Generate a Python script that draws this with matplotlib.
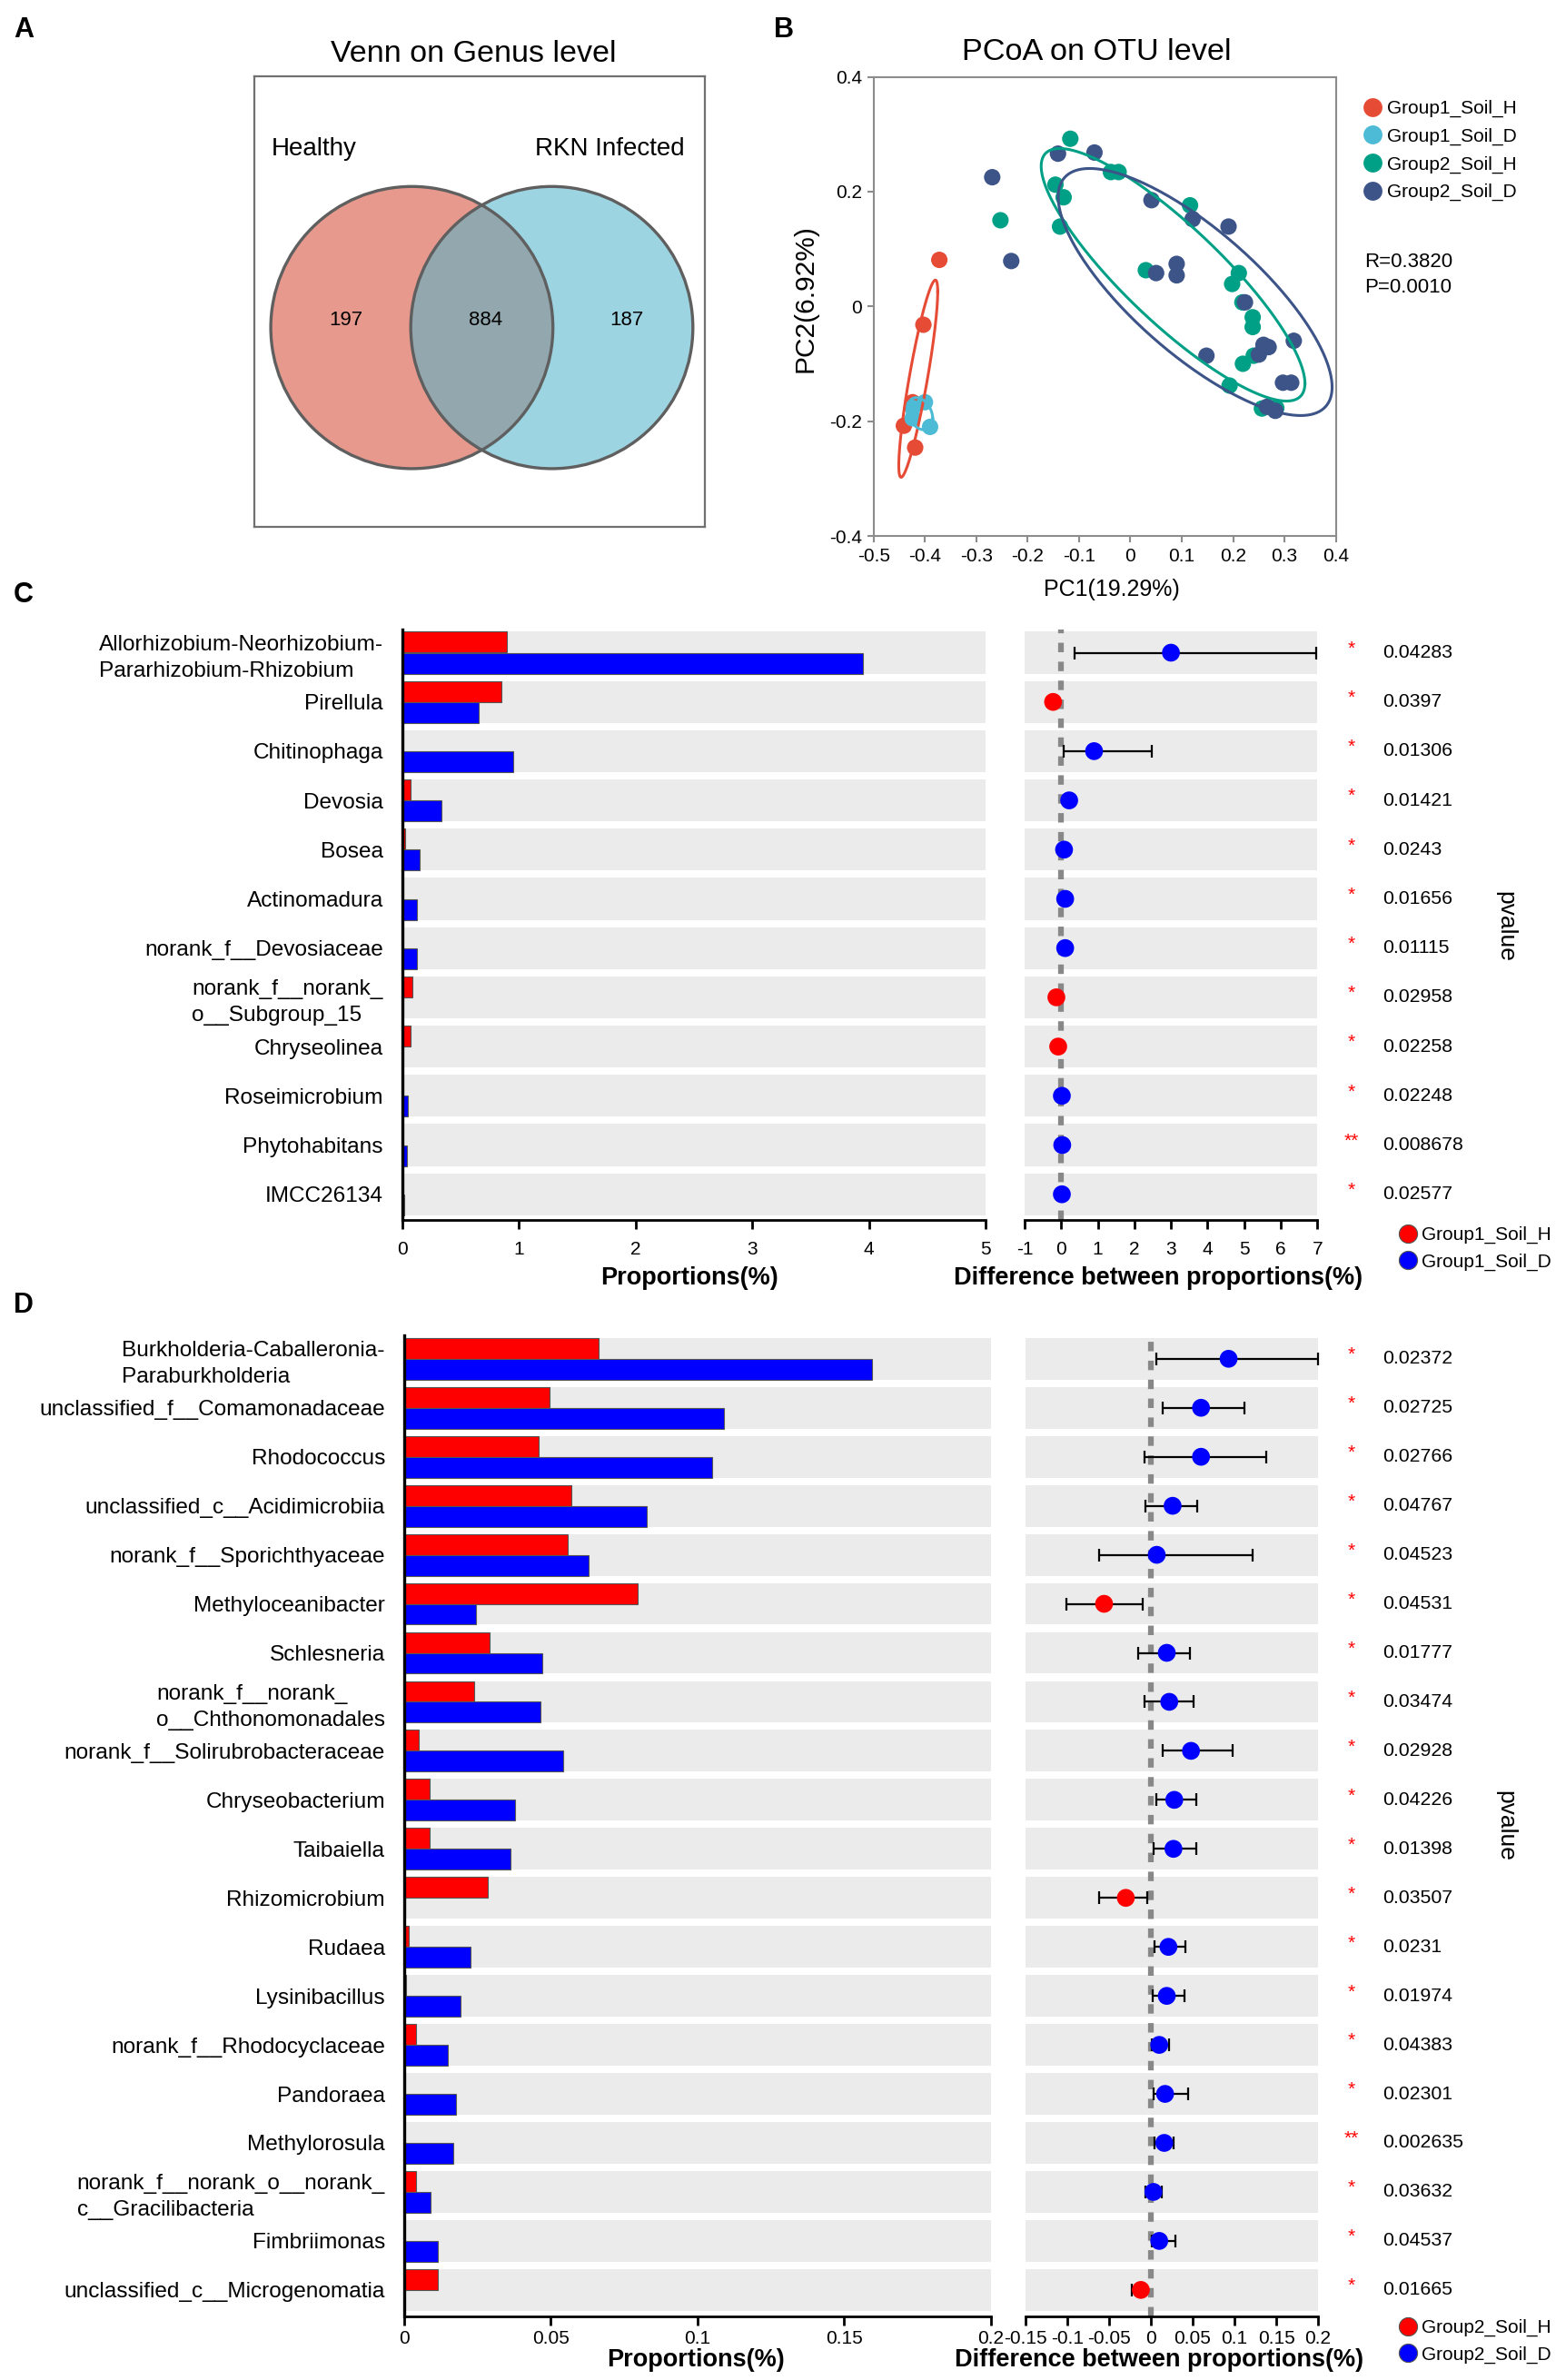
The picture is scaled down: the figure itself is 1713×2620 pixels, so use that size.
import matplotlib
matplotlib.use('Agg')
import matplotlib.pyplot as plt
import numpy as np
from matplotlib.patches import Circle
from matplotlib.lines import Line2D
from matplotlib.transforms import blended_transform_factory

plt.rcParams['font.family'] = ['Liberation Sans', 'DejaVu Sans']
plt.rcParams['lines.scale_dashes'] = False

# ---------------- data ----------------
# A: Venn
venn_names = ['Healthy', 'RKN Infected']
venn_counts = [197, 884, 187]   # only healthy, shared, only infected

# B: PCoA
pcoa_groups = ['Group1_Soil_H', 'Group1_Soil_D', 'Group2_Soil_H', 'Group2_Soil_D']
pcoa_colors = ['#E64B35', '#4DBBD5', '#00A087', '#3C5488']
g1h_x = [-0.372, -0.403, -0.424, -0.441, -0.419]
g1h_y = [0.081, -0.032, -0.167, -0.208, -0.246]
g1d_x = [-0.400, -0.424, -0.424, -0.390]
g1d_y = [-0.167, -0.177, -0.195, -0.210]
g2h_x = [-0.117, -0.146, -0.130, -0.253, -0.137, -0.038, -0.023, 0.116, 0.030, 0.211,
         0.198, 0.218, 0.238, 0.238, 0.240, 0.219, 0.193, 0.256, 0.284]
g2h_y = [0.292, 0.212, 0.190, 0.150, 0.139, 0.234, 0.234, 0.176, 0.063, 0.058,
         0.039, 0.007, -0.019, -0.036, -0.086, -0.100, -0.138, -0.178, -0.177]
g2d_x = [-0.269, -0.141, -0.070, -0.232, 0.041, 0.121, 0.191, 0.050, 0.090, 0.090,
         0.223, 0.148, 0.250, 0.259, 0.269, 0.318, 0.297, 0.313, 0.266, 0.282]
g2d_y = [0.225, 0.266, 0.268, 0.079, 0.185, 0.152, 0.139, 0.058, 0.074, 0.054,
         0.007, -0.086, -0.084, -0.067, -0.071, -0.060, -0.133, -0.133, -0.175, -0.182]
# confidence ellipses: centre, spread, correlation
ell_cx = [-0.413, -0.4095, 0.083, 0.126]
ell_cy = [-0.126, -0.187, 0.055, 0.025]
ell_sx = [0.0379, 0.0246, 0.2567, 0.2666]
ell_sy = [0.1718, 0.0280, 0.2200, 0.2152]
ell_rho = [0.88, -0.3, -0.86, -0.77]
pcoa_xticks = [-0.5, -0.4, -0.3, -0.2, -0.1, 0, 0.1, 0.2, 0.3, 0.4]
pcoa_xlabels = ['-0.5', '-0.4', '-0.3', '-0.2', '-0.1', '0', '0.1', '0.2', '0.3', '0.4']
pcoa_yticks = [-0.4, -0.2, 0, 0.2, 0.4]
pcoa_ylabels = ['-0.4', '-0.2', '0', '0.2', '0.4']

# C: Group1 STAMP
c_taxa = ['Allorhizobium-Neorhizobium-\nPararhizobium-Rhizobium', 'Pirellula', 'Chitinophaga',
          'Devosia', 'Bosea', 'Actinomadura', 'norank_f__Devosiaceae',
          'norank_f__norank_\no__Subgroup_15', 'Chryseolinea', 'Roseimicrobium',
          'Phytohabitans', 'IMCC26134']
c_H = [0.90, 0.85, 0.005, 0.07, 0.03, 0.005, 0.005, 0.09, 0.07, 0.003, 0.002, 0.002]
c_D = [3.95, 0.66, 0.95, 0.34, 0.15, 0.13, 0.13, 0.005, 0.005, 0.05, 0.04, 0.02]
c_diff = [3.0, -0.22, 0.90, 0.22, 0.08, 0.11, 0.11, -0.13, -0.08, 0.02, 0.03, 0.02]
c_lo = [0.37, -0.25, 0.06, 0.16, 0.04, 0.07, 0.07, -0.17, -0.11, -0.01, 0.0, -0.01]
c_hi = [6.98, -0.19, 2.47, 0.28, 0.12, 0.15, 0.15, -0.11, -0.05, 0.05, 0.06, 0.05]
c_p = ['0.04283', '0.0397', '0.01306', '0.01421', '0.0243', '0.01656', '0.01115',
       '0.02958', '0.02258', '0.02248', '0.008678', '0.02577']
c_sig = ['*', '*', '*', '*', '*', '*', '*', '*', '*', '*', '**', '*']
c_groups = ['Group1_Soil_H', 'Group1_Soil_D']
c_prop_ticks = [0, 1, 2, 3, 4, 5]
c_prop_labels = ['0', '1', '2', '3', '4', '5']
c_diff_ticks = [-1, 0, 1, 2, 3, 4, 5, 6, 7]
c_diff_labels = ['-1', '0', '1', '2', '3', '4', '5', '6', '7']

# D: Group2 STAMP
d_taxa = ['Burkholderia-Caballeronia-\nParaburkholderia', 'unclassified_f__Comamonadaceae',
          'Rhodococcus', 'unclassified_c__Acidimicrobiia', 'norank_f__Sporichthyaceae',
          'Methyloceanibacter', 'Schlesneria', 'norank_f__norank_\no__Chthonomonadales',
          'norank_f__Solirubrobacteraceae', 'Chryseobacterium', 'Taibaiella', 'Rhizomicrobium',
          'Rudaea', 'Lysinibacillus', 'norank_f__Rhodocyclaceae', 'Pandoraea', 'Methylorosula',
          'norank_f__norank_o__norank_\nc__Gracilibacteria', 'Fimbriimonas',
          'unclassified_c__Microgenomatia']
d_H = [0.0663, 0.0497, 0.0460, 0.0569, 0.0558, 0.0795, 0.0291, 0.0240, 0.0051, 0.0088,
       0.0088, 0.0284, 0.0017, 0.0007, 0.0041, 0.0003, 0.0002, 0.0041, 0.0002, 0.0115]
d_D = [0.1594, 0.1090, 0.1050, 0.0826, 0.0630, 0.0244, 0.0470, 0.0464, 0.0541, 0.0379,
       0.0362, 0.0005, 0.0227, 0.0193, 0.0149, 0.0176, 0.0169, 0.0091, 0.0115, 0.0002]
d_diff = [0.093, 0.060, 0.060, 0.026, 0.007, -0.056, 0.019, 0.022, 0.048, 0.028,
          0.027, -0.030, 0.021, 0.019, 0.010, 0.017, 0.016, 0.003, 0.010, -0.012]
d_lo = [0.007, 0.014, -0.008, -0.006, -0.062, -0.101, -0.015, -0.008, 0.014, 0.006,
        0.003, -0.062, 0.004, 0.002, 0.001, 0.003, 0.004, -0.006, 0.001, -0.023]
d_hi = [0.200, 0.112, 0.138, 0.055, 0.122, -0.010, 0.047, 0.051, 0.098, 0.054,
        0.054, -0.004, 0.041, 0.040, 0.022, 0.045, 0.027, 0.013, 0.029, -0.006]
d_p = ['0.02372', '0.02725', '0.02766', '0.04767', '0.04523', '0.04531', '0.01777',
       '0.03474', '0.02928', '0.04226', '0.01398', '0.03507', '0.0231', '0.01974',
       '0.04383', '0.02301', '0.002635', '0.03632', '0.04537', '0.01665']
d_sig = ['*'] * 16 + ['**'] + ['*'] * 3
d_groups = ['Group2_Soil_H', 'Group2_Soil_D']
d_prop_ticks = [0, 0.05, 0.1, 0.15, 0.2]
d_prop_labels = ['0', '0.05', '0.1', '0.15', '0.2']
d_diff_ticks = [-0.15, -0.1, -0.05, 0, 0.05, 0.1, 0.15, 0.2]
d_diff_labels = ['-0.15', '-0.1', '-0.05', '0', '0.05', '0.1', '0.15', '0.2']

# ---------------- layout helpers (pixels) ----------------
W, H = 1713, 2620
fig = plt.figure(figsize=(W / 100, H / 100), dpi=100)


def box(x0, y0, x1, y1):
    return [x0 / W, 1 - y1 / H, (x1 - x0) / W, (y1 - y0) / H]


def ftext(x, y, s, **kw):
    fig.text(x / W, 1 - y / H, s, **kw)


# panel letters
for letter, (lx, ly) in zip('ABCD', [(15, 33), (852, 33), (15, 655), (15, 1437)]):
    ftext(lx, ly, letter, fontsize=22, fontweight='bold', ha='left', va='center')

# ---------------- A: Venn ----------------
ax = fig.add_axes(box(280, 84, 776, 580))
ax.set_xlim(0, 496)
ax.set_ylim(496, 0)
ax.set_xticks([])
ax.set_yticks([])
for s in ax.spines.values():
    s.set_color('#707070')
    s.set_linewidth(1.6)
r = 155.3
cl = (173.4, 276.6)
cr = (327.5, 276.6)
left_c = Circle(cl, r, fc='#E8998D', ec='none')
right_c = Circle(cr, r, fc='#9DD4E2', ec='none')
ax.add_patch(left_c)
ax.add_patch(right_c)
inter = Circle(cl, r, fc='#93A8AE', ec='none')
ax.add_patch(inter)
inter.set_clip_path(right_c)
ax.add_patch(Circle(cl, r, fill=False, ec='#5f5f5f', lw=2.4))
ax.add_patch(Circle(cr, r, fill=False, ec='#5f5f5f', lw=2.4))
ax.text(19, 80, venn_names[0], fontsize=20, ha='left', va='center')
ax.text(474, 80, venn_names[1], fontsize=20, ha='right', va='center')
for xx, n in zip([101, 255, 410], venn_counts):
    ax.text(xx, 269, str(n), fontsize=16, ha='center', va='center')
ftext(521, 59, 'Venn on Genus level', fontsize=24.5, ha='center', va='center')

# ---------------- B: PCoA ----------------
ax = fig.add_axes(box(961.7, 84.5, 1470.7, 590))
for gx, gy, col in zip([g1h_x, g1d_x, g2h_x, g2d_x], [g1h_y, g1d_y, g2h_y, g2d_y], pcoa_colors):
    ax.scatter(gx, gy, s=170, color=col, edgecolors='none', zorder=3)
t = np.linspace(0, 2 * np.pi, 300)
for cx, cy, sx, sy, rho, col in zip(ell_cx, ell_cy, ell_sx, ell_sy, ell_rho, pcoa_colors):
    cov = np.array([[sx * sx, rho * sx * sy], [rho * sx * sy, sy * sy]])
    L = np.linalg.cholesky(cov)
    pts = L @ np.vstack([np.cos(t), np.sin(t)])
    ax.plot(cx + pts[0], cy + pts[1], color=col, lw=2.2, zorder=4)
ax.set_xlim(-0.5, 0.4)
ax.set_ylim(-0.4, 0.4)
ax.set_xticks(pcoa_xticks)
ax.set_xticklabels(pcoa_xlabels)
ax.set_yticks(pcoa_yticks)
ax.set_yticklabels(pcoa_ylabels)
for s in ax.spines.values():
    s.set_color('#8c8c8c')
    s.set_linewidth(1.5)
ax.tick_params(direction='out', length=5, width=1.5, color='#8c8c8c', labelsize=15, pad=4)
ax.set_xlabel('PC1(19.29%)', fontsize=18, labelpad=11)
ax.set_ylabel('PC2(6.92%)', fontsize=21.5, labelpad=9)
ax.xaxis.label.set_x(0.516)
ax.yaxis.label.set_y(0.518)
ftext(1207, 57, 'PCoA on OTU level', fontsize=24.7, ha='center', va='center')
ftext(1502, 288, 'R=0.3820', fontsize=16, ha='left', va='center')
ftext(1502, 317, 'P=0.0010', fontsize=16, ha='left', va='center')
handles = [Line2D([], [], marker='o', ls='', ms=15, mfc=c, mec='none') for c in pcoa_colors]
fig.legend(handles, pcoa_groups, loc='upper left', bbox_to_anchor=(1501 / W, 1 - 110 / H),
           frameon=False, fontsize=15, handlelength=1.0, handletextpad=0.25,
           labelspacing=0.55, borderpad=0, borderaxespad=0)


# ---------------- C / D: extended error bar plots ----------------
def stamp(taxa, hv, dv, diff, lo, hi, pv, sig, groups, ptk, ptl, dtk, dtl,
          lbox, rbox, y0, sp, tick_pad, xlab_pad, leg_y, pv_y, lx_pos):
    n = len(taxa)
    yy = np.arange(n)
    ytop = (lbox[1] - y0) / sp
    ybot = (lbox[3] - y0) / sp
    band = 0.85

    axl = fig.add_axes(box(*lbox))
    for i in yy:
        axl.axhspan(i - band / 2, i + band / 2, color='#ebebeb', lw=0, zorder=0)
    axl.barh(yy - band / 4, hv, height=band / 2, color='#ff0000', edgecolor='#555555',
             lw=0.8, zorder=2)
    axl.barh(yy + band / 4, dv, height=band / 2, color='#0000ff', edgecolor='#555555',
             lw=0.8, zorder=2)
    axl.set_xlim(ptk[0], ptk[-1])
    axl.set_ylim(ybot, ytop)
    axl.set_xticks(ptk)
    axl.set_xticklabels(ptl)
    axl.set_yticks(yy)
    axl.set_yticklabels(taxa)
    for lbl in axl.get_yticklabels():
        lbl.set_multialignment('left')
        lbl.set_linespacing(1.4)
    axl.tick_params(axis='y', length=0, labelsize=17.6, pad=15)
    axl.tick_params(axis='x', direction='out', length=7, width=2, labelsize=15, pad=tick_pad)
    for k in ['top', 'right']:
        axl.spines[k].set_visible(False)
    axl.spines['left'].set_linewidth(2.4)
    axl.spines['bottom'].set_linewidth(2)
    axl.set_xlabel('Proportions(%)', fontsize=19.5, fontweight='bold', labelpad=xlab_pad)
    axl.xaxis.label.set_x(lx_pos)

    axr = fig.add_axes(box(*rbox))
    for i in yy:
        axr.axhspan(i - band / 2, i + band / 2, color='#ebebeb', lw=0, zorder=0)
    axr.axvline(0, color='#888888', lw=4.5, dashes=(7.5, 7.5), zorder=1)
    diff = np.array(diff)
    axr.errorbar(diff, yy, xerr=[diff - np.array(lo), np.array(hi) - diff], fmt='none',
                 ecolor='black', elinewidth=1.6, capsize=5, capthick=1.6, zorder=3,
                 clip_on=False)
    cols = ['#0000ff' if v > 0 else '#ff0000' for v in diff]
    axr.scatter(diff, yy, s=200, c=cols, edgecolors='none', zorder=4)
    axr.set_xlim(dtk[0], dtk[-1])
    axr.set_ylim(ybot, ytop)
    axr.set_xticks(dtk)
    axr.set_xticklabels(dtl)
    axr.set_yticks([])
    axr.tick_params(axis='x', direction='out', length=7, width=2, labelsize=15, pad=tick_pad)
    for k in ['top', 'right', 'left']:
        axr.spines[k].set_visible(False)
    axr.spines['bottom'].set_linewidth(2)
    axr.set_xlabel('Difference between proportions(%)', fontsize=19.5, fontweight='bold',
                   labelpad=xlab_pad)
    axr.xaxis.label.set_x(0.457)

    tr = blended_transform_factory(fig.transFigure, axr.transData)
    for i in yy:
        axr.text(1488 / W, i - 0.08, sig[i], color='#ff0000', fontsize=15, ha='center',
                 va='center', transform=tr)
        axr.text(1522 / W, i, pv[i], fontsize=15.3, ha='left', va='center', transform=tr)
    ftext(1657, pv_y, 'pvalue', fontsize=19, rotation=-90, ha='center', va='center')

    hnd = [Line2D([], [], marker='o', ls='', ms=14.5, mfc=c, mec='#555555', mew=0.8)
           for c in ['#ff0000', '#0000ff']]
    fig.legend(hnd, groups, loc='upper left', bbox_to_anchor=(1539.5 / W, 1 - leg_y / H),
               frameon=False, fontsize=15, handlelength=1.0, handletextpad=0.2,
               labelspacing=0.5, borderpad=0, borderaxespad=0)


stamp(c_taxa, c_H, c_D, c_diff, c_lo, c_hi, c_p, c_sig, c_groups,
      c_prop_ticks, c_prop_labels, c_diff_ticks, c_diff_labels,
      (442.6, 693.3, 1085.2, 1343.3), (1127.9, 693.3, 1450.3, 1343.3),
      718.5, 54.2, 9, 7, 1350, 1020, 0.492)

stamp(d_taxa, d_H, d_D, d_diff, d_lo, d_hi, d_p, d_sig, d_groups,
      d_prop_ticks, d_prop_labels, d_diff_ticks, d_diff_labels,
      (444.8, 1470, 1090.7, 2549.6), (1129, 1470, 1451, 2549.6),
      1495.8, 53.95, 4, 1, 2553, 2010, 0.497)

fig.savefig('out.png', dpi=100)
